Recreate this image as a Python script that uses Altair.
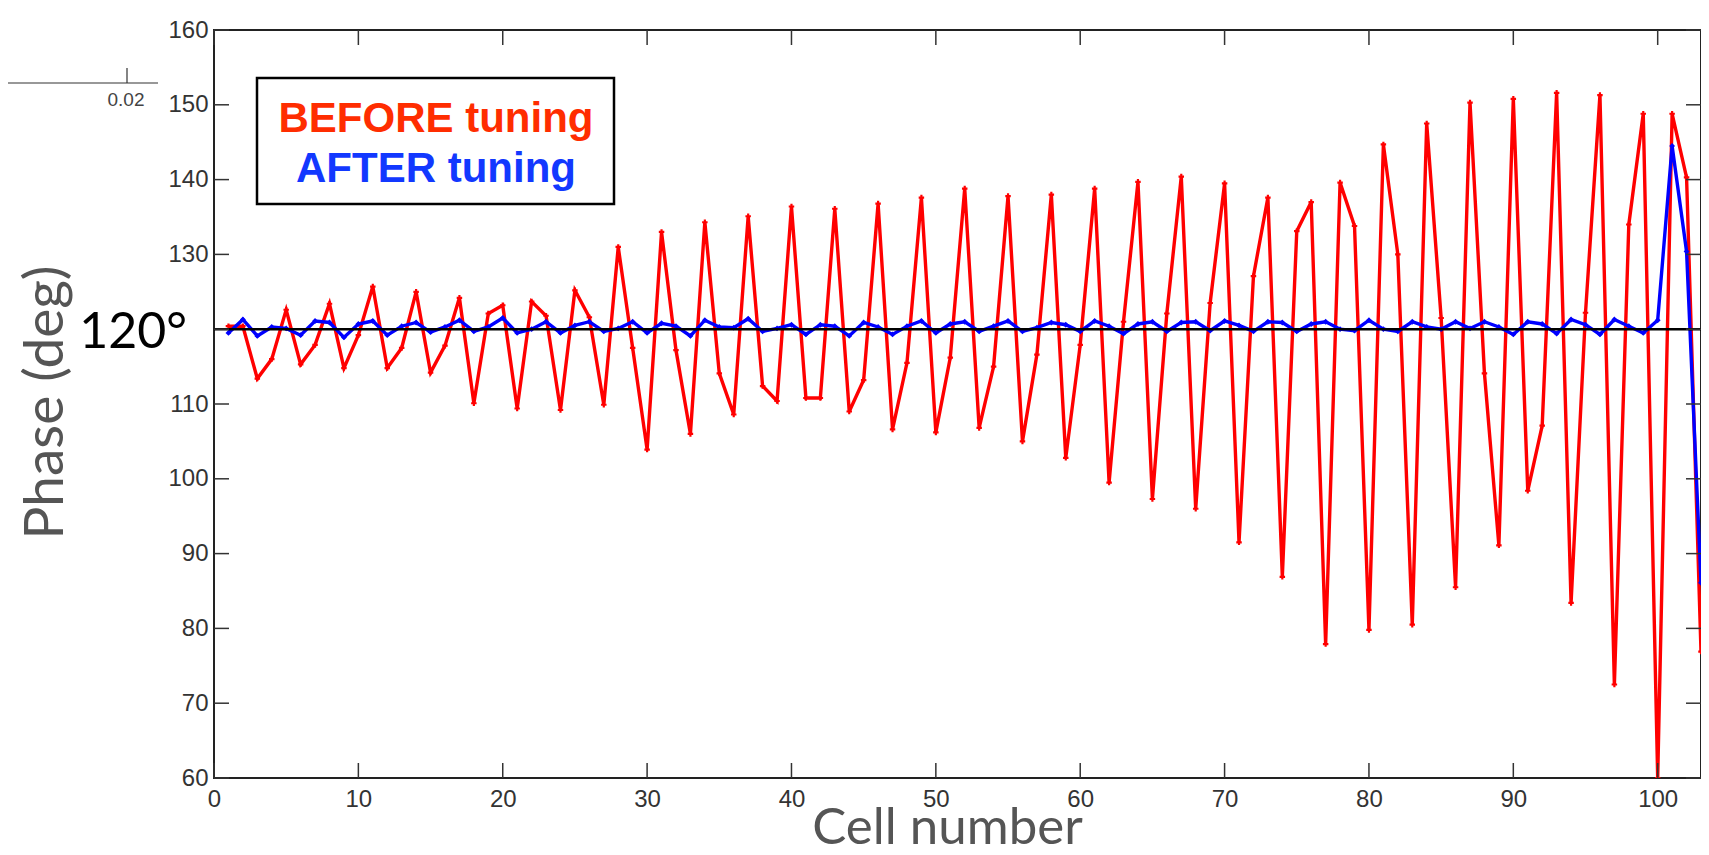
import altair as alt
import pandas as pd

# ---------------- data ----------------
cells = list(range(1, 104))

before_tuning = [
    120.4, 120.4, 113.4, 116.0, 122.6, 115.3, 117.9, 123.4, 114.8, 119.2,
    125.7, 114.8, 117.5, 125.0, 114.2, 117.8, 124.2, 110.1, 122.1, 123.2,
    109.4, 123.7, 121.8, 109.2, 125.2, 121.6, 109.9, 131.0, 117.5, 103.9,
    133.0, 117.2, 106.0, 134.3, 114.1, 108.6, 135.1, 112.4, 110.4, 136.4,
    110.8, 110.8, 136.1, 109.0, 113.2, 136.8, 106.6, 115.5, 137.6, 106.2,
    116.2, 138.8, 106.8, 115.0, 137.8, 105.0, 116.6, 138.0, 102.8, 117.9,
    138.8, 99.5, 121.0, 139.7, 97.3, 122.1, 140.4, 96.0, 123.5, 139.5,
    91.5, 127.1, 137.6, 86.9, 133.1, 137.0, 77.9, 139.6, 133.8, 79.8,
    144.7, 130.0, 80.5, 147.5, 121.5, 85.5, 150.3, 114.1, 91.1, 150.8,
    98.4, 107.1, 151.6, 83.4, 122.2, 151.3, 72.5, 134.0, 148.8, 60.0,
    148.8, 140.3, 76.9,
]

after_tuning = [
    119.5, 121.3, 119.1, 120.3, 120.1, 119.2, 121.1, 120.9, 118.9, 120.7,
    121.1, 119.2, 120.4, 120.9, 119.6, 120.3, 121.2, 119.7, 120.3, 121.5,
    119.5, 120.0, 121.0, 119.5, 120.5, 121.0, 119.7, 120.1, 121.0, 119.5,
    120.8, 120.4, 119.1, 121.2, 120.3, 120.2, 121.4, 119.7, 120.1, 120.6,
    119.3, 120.6, 120.4, 119.1, 120.9, 120.3, 119.3, 120.4, 121.1, 119.5,
    120.7, 121.0, 119.7, 120.4, 121.1, 119.7, 120.2, 120.9, 120.6, 119.7,
    121.1, 120.4, 119.4, 120.7, 121.0, 119.7, 120.9, 121.0, 119.8, 121.1,
    120.5, 119.7, 121.0, 120.9, 119.7, 120.7, 121.0, 120.0, 119.8, 121.2,
    120.0, 119.7, 121.0, 120.3, 120.0, 121.0, 120.1, 121.0, 120.3, 119.3,
    121.0, 120.7, 119.4, 121.3, 120.6, 119.3, 121.3, 120.4, 119.5, 121.2,
    144.5, 130.4, 86.1,
]

series_names = ["BEFORE tuning", "AFTER tuning"]
reference_phase = [120]
reference_label = ["120°"]
y_tick_values = [60, 70, 80, 90, 100, 110, 120, 130, 140, 150, 160]
y_label_values = [60, 70, 80, 90, 100, 110, 130, 140, 150, 160]
x_tick_values = [0, 10, 20, 30, 40, 50, 60, 70, 80, 90, 100]
fragment_label = ["0.02"]

# ---------------- chart ----------------
W, H = 1487, 748
RED = "#ff0000"
BLUE = "#0000ff"

df_before = pd.DataFrame({"cell": cells, "phase": before_tuning})
df_after = pd.DataFrame({"cell": cells, "phase": after_tuning})

xs = alt.Scale(domain=[0, 103], nice=False, zero=False)
ys = alt.Scale(domain=[60, 160], nice=False, zero=False)

x_axis = alt.Axis(
    values=x_tick_values, ticks=False, tickSize=0, domain=False, grid=False,
    labelFont="Liberation Sans", labelFontSize=24, labelColor="#333333",
    labelPadding=9, labelFlush=False, labelOverlap=False,
    title="Cell number", titleFont="Lato", titleFontSize=51,
    titleFontWeight="normal", titleColor="#555555",
    titleX=733, titleY=65, titleBaseline="alphabetic", titleAlign="center",
)
y_axis = alt.Axis(
    values=y_label_values, ticks=False, tickSize=0, domain=False, grid=False,
    labelFont="Liberation Sans", labelFontSize=24, labelColor="#333333",
    labelPadding=6, labelFlush=False, labelOverlap=False, format="d",
    title="Phase (deg)", titleFont="Lato", titleFontSize=55,
    titleFontWeight="normal", titleColor="#555555", titleAngle=270,
    titleX=-152, titleY=372, titleBaseline="alphabetic", titleAlign="center",
)


def X(field):
    return alt.X(field, scale=xs, axis=x_axis)


def Y(field):
    return alt.Y(field, scale=ys, axis=y_axis)


red = alt.Chart(df_before).mark_line(
    color=RED, strokeWidth=3.4, clip=True,
    point=alt.OverlayMarkDef(shape="cross", size=30, color=RED, filled=True),
).encode(x=X("cell:Q"), y=Y("phase:Q"))

blue = alt.Chart(df_after).mark_line(
    color=BLUE, strokeWidth=3.4, clip=True,
    point=alt.OverlayMarkDef(shape="diamond", size=34, color=BLUE, filled=True),
).encode(x=X("cell:Q"), y=Y("phase:Q"))

ref = alt.Chart(pd.DataFrame({"ref": reference_phase})).mark_rule(
    color="black", strokeWidth=2.5
).encode(y=Y("ref:Q"))

ytick_df = pd.DataFrame({"tv": y_tick_values})
xtick_df = pd.DataFrame({"tv": x_tick_values})
tick_style = dict(color="#333333", strokeWidth=1.5)
left_ticks = alt.Chart(ytick_df).mark_rule(**tick_style).encode(
    y=Y("tv:Q"), x=alt.value(0), x2=alt.value(15))
right_ticks = alt.Chart(ytick_df).mark_rule(**tick_style).encode(
    y=Y("tv:Q"), x=alt.value(W - 15), x2=alt.value(W))
bottom_ticks = alt.Chart(xtick_df).mark_rule(**tick_style).encode(
    x=X("tv:Q"), y=alt.value(H - 15), y2=alt.value(H))
top_ticks = alt.Chart(xtick_df).mark_rule(**tick_style).encode(
    x=X("tv:Q"), y=alt.value(0), y2=alt.value(15))

# legend box with coloured text
legend_box = alt.Chart(pd.DataFrame({"a": [0]})).mark_rect(
    fill="white", stroke="black", strokeWidth=2.5
).encode(x=alt.value(43), x2=alt.value(400), y=alt.value(48), y2=alt.value(174))

legend_before = alt.Chart(pd.DataFrame({"t": [series_names[0]]})).mark_text(
    font="Liberation Sans", fontWeight="bold", fontSize=42, color="#ff2d00",
    align="center", baseline="alphabetic",
).encode(text="t:N", x=alt.value(222), y=alt.value(102))

legend_after = alt.Chart(pd.DataFrame({"t": [series_names[1]]})).mark_text(
    font="Liberation Sans", fontWeight="bold", fontSize=42, color="#1238ff",
    align="center", baseline="alphabetic",
).encode(text="t:N", x=alt.value(222), y=alt.value(152))

label_120 = alt.Chart(pd.DataFrame({"t": reference_label})).mark_text(
    font="Lato", fontSize=50, color="black", align="right", baseline="alphabetic",
).encode(text="t:N", x=alt.value(-27), y=alt.value(318))

# fragment of a neighbouring axis at top-left of the slide
frag_line = alt.Chart(pd.DataFrame({"a": [0]})).mark_rule(
    color="#333333", strokeWidth=1.2
).encode(x=alt.value(-206), x2=alt.value(-56), y=alt.value(53))
frag_tick = alt.Chart(pd.DataFrame({"a": [0]})).mark_rule(
    color="#333333", strokeWidth=1.2
).encode(x=alt.value(-87), y=alt.value(38), y2=alt.value(53))
frag_text = alt.Chart(pd.DataFrame({"t": fragment_label})).mark_text(
    font="Liberation Sans", fontSize=19, color="#444444",
    align="center", baseline="middle",
).encode(text="t:N", x=alt.value(-88), y=alt.value(70))

chart = alt.layer(
    red, blue, ref,
    left_ticks, right_ticks, bottom_ticks, top_ticks,
    legend_box, legend_before, legend_after, label_120,
    frag_line, frag_tick, frag_text,
).properties(
    width=W, height=H,
    autosize=alt.AutoSizeParams(type="none"),
    padding={"left": 206, "top": 22, "right": 0, "bottom": 69},
    background="white",
).configure_view(stroke="#222222", strokeWidth=2)

chart.save("out.html", embed_options={"renderer": "svg", "actions": False})
